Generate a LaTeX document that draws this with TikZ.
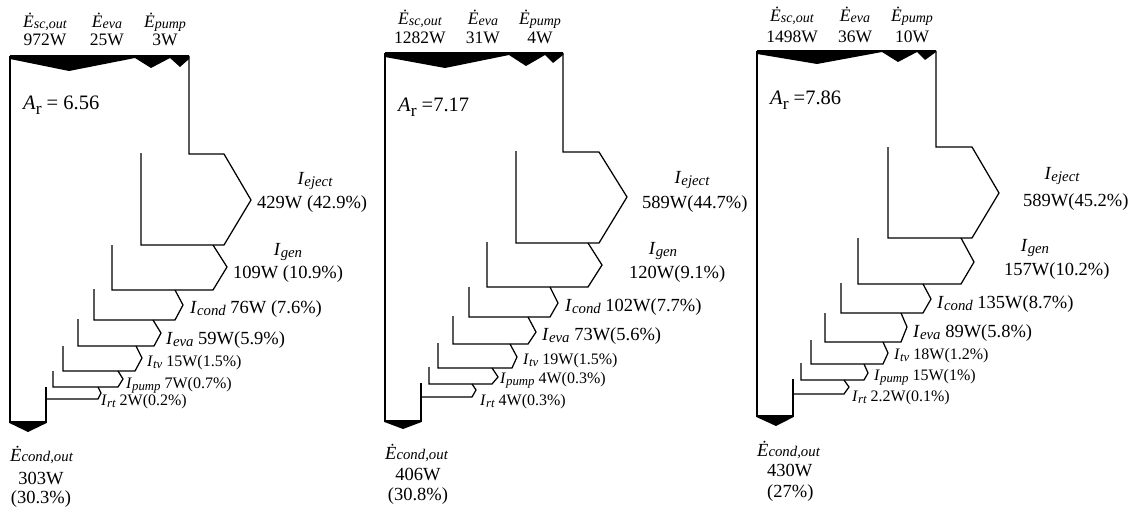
\documentclass[tikz,border=0pt]{standalone}
\usepackage{fontspec}
\setmainfont{Liberation Serif}
\makeatletter
\newcommand\subit[3][-0.15em]{\textit{#2}\raisebox{#1}{\fontsize{\fpeval{0.8*\f@size}}{\f@size}\selectfont\itshape #3}}
\newcommand\Rsub[1]{\raisebox{-0.2em}{\fontsize{\fpeval{0.85*\f@size}}{\f@size}\selectfont #1}}
\makeatother
\newcommand\Ed[1]{\subit[-0.05em]{Ė}{#1}}
\newcommand\Ii[1]{\subit[-0.15em]{I}{#1}}
\begin{document}
\begin{tikzpicture}[x=1pt,y=-1pt,
  flow/.style={line width=1.25pt, line join=miter},
  wedge/.style={fill=black},
  toplab/.style={inner sep=0pt, anchor=base, font=\fontsize{17.5}{18}\selectfont},
  big/.style={inner sep=0pt, font=\fontsize{18.5}{20}\selectfont},
  small/.style={inner sep=0pt, anchor=base west, font=\fontsize{16}{17}\selectfont},
  ar/.style={inner sep=0pt, anchor=base west, font=\fontsize{20.5}{22}\selectfont}]
\useasboundingbox (0,0) rectangle (1134,508);
% ---------------- diagram 1 ----------------
\fill[wedge] (10,56) -- (189,56) -- (189,59) -- (180,67) -- (170,58) -- (151,68) -- (135,58) -- (69,71) -- (10,59) -- cycle;
\draw[flow] (10,56) -- (189,56);
\draw[flow] (10,56) -- (10,423);
\draw[flow] (189,56) -- (189,154) -- (224,154) -- (251,200) -- (224,245) -- (141,245) -- (141,153);
\draw[flow] (213,245) -- (227,267) -- (213,290) -- (112,290) -- (112,245);
\draw[flow] (175,290) -- (183,305) -- (175,320) -- (94,320) -- (94,289);
\draw[flow] (153,320) -- (161,333) -- (154,346) -- (78,346) -- (78,319);
\draw[flow] (136,346) -- (142,358) -- (135,371) -- (63,371) -- (63,346);
\draw[flow] (118,371) -- (123,379) -- (118,387) -- (53,387) -- (53,371);
\draw[flow] (98,387) -- (101,393) -- (98,399) -- (46,399);
\draw[flow] (46,387) -- (46,423);
\fill[wedge] (9.4,421) -- (46.6,421) -- (46.6,423) -- (28,432) -- (9.4,423) -- cycle;
\node[toplab] (a1) at (45,28) {\Ed{sc,out}};
\node[toplab] (a1v) at (45,46) {972W};
\node[toplab] (b1) at (107,28) {\Ed{eva}};
\node[toplab] (b1v) at (107,46) {25W};
\node[toplab] (c1) at (165,28) {\Ed{pump}};
\node[toplab] (c1v) at (165,46) {3W};
\node[ar] (r1) at (23,110) {\textit{A}\Rsub{r} = 6.56};
\node[big,anchor=base] (ej1) at (315,184) {\Ii{eject}};
\node[big,anchor=base west] (ej1v) at (257,208) {429W (42.9\%)};
\node[big,anchor=base] (g1) at (288,255) {\Ii{gen}};
\node[big,anchor=base] (g1v) at (288,278) {109W (10.9\%)};
\node[big,anchor=base west] (cd1) at (190,313) {\Ii{cond} 76W (7.6\%)};
\node[big,anchor=base west] (ev1) at (166,344) {\Ii{eva} 59W(5.9\%)};
\node[small] (tv1) at (147,366) {\Ii{tv} 15W(1.5\%)};
\node[small] (pu1) at (126,388) {\Ii{pump} 7W(0.7\%)};
\node[small] (rt1) at (101,405) {\Ii{rt} 2W(0.2\%)};
\node[big,anchor=base west] (co1) at (10,461) {\Ed{cond,out}};
\node[big,anchor=base] (co1v) at (41,484) {303W};
\node[big,anchor=base] (co1p) at (41,503) {(30.3\%)};
% ---------------- diagram 2 ----------------
\fill[wedge] (385,53) -- (563,53) -- (563,55) -- (553,63) -- (545,55) -- (526,66) -- (509,55) -- (445,68) -- (385,57) -- cycle;
\draw[flow] (385,53) -- (563,53);
\draw[flow] (385,53) -- (385,422);
\draw[flow] (563,53) -- (563,152) -- (599,152) -- (627,197) -- (599,243) -- (516,243) -- (516,151);
\draw[flow] (588,243) -- (602,265) -- (588,287) -- (487,287) -- (487,242);
\draw[flow] (550,287) -- (558,303) -- (550,317) -- (469,317) -- (469,287);
\draw[flow] (528,317) -- (536,332) -- (528,344) -- (453,344) -- (453,316);
\draw[flow] (510,344) -- (517,357) -- (512,368) -- (438,368) -- (438,343);
\draw[flow] (492,368) -- (498,377) -- (492,384) -- (429,384) -- (429,367);
\draw[flow] (472,384) -- (476,390) -- (472,397) -- (421,397);
\draw[flow] (421,383) -- (421,422);
\fill[wedge] (384.4,420) -- (421.6,420) -- (421.6,422) -- (403,429) -- (384.4,422) -- cycle;
\node[toplab] (a2) at (420,25) {\Ed{sc,out}};
\node[toplab] (a2v) at (420,44) {1282W};
\node[toplab] (b2) at (483,25) {\Ed{eva}};
\node[toplab] (b2v) at (483,44) {31W};
\node[toplab] (c2) at (540,25) {\Ed{pump}};
\node[toplab] (c2v) at (540,44) {4W};
\node[ar] (r2) at (398,112) {\textit{A}\Rsub{r} =7.17};
\node[big,anchor=base] (ej2) at (692,183) {\Ii{eject}};
\node[big,anchor=base west] (ej2v) at (642,208) {589W(44.7\%)};
\node[big,anchor=base] (g2) at (663,254) {\Ii{gen}};
\node[big,anchor=base west] (g2v) at (629,278) {120W(9.1\%)};
\node[big,anchor=base west] (cd2) at (565,311) {\Ii{cond} 102W(7.7\%)};
\node[big,anchor=base west] (ev2) at (542,340) {\Ii{eva} 73W(5.6\%)};
\node[small] (tv2) at (523,364) {\Ii{tv} 19W(1.5\%)};
\node[small] (pu2) at (500,383) {\Ii{pump} 4W(0.3\%)};
\node[small] (rt2) at (480,405) {\Ii{rt} 4W(0.3\%)};
\node[big,anchor=base west] (co2) at (385,459) {\Ed{cond,out}};
\node[big,anchor=base] (co2v) at (418,480) {406W};
\node[big,anchor=base] (co2p) at (418,500) {(30.8\%)};
% ---------------- diagram 3 ----------------
\fill[wedge] (757,51) -- (936,51) -- (936,52) -- (925,60) -- (917,52) -- (898,62) -- (882,52) -- (817,64) -- (757,54) -- cycle;
\draw[flow] (757,51) -- (936,51);
\draw[flow] (757,51) -- (757,417);
\draw[flow] (936,51) -- (936,147) -- (972,147) -- (999,193) -- (972,238) -- (888,238) -- (888,147);
\draw[flow] (961,238) -- (974,262) -- (961,284) -- (858,284) -- (858,238);
\draw[flow] (923,284) -- (931,299) -- (923,313) -- (841,313) -- (841,283);
\draw[flow] (901,313) -- (907,327) -- (901,342) -- (825,342) -- (825,313);
\draw[flow] (883,342) -- (888,353) -- (883,364) -- (811,364) -- (811,340);
\draw[flow] (864,364) -- (868,373) -- (864,380) -- (801,380) -- (801,363);
\draw[flow] (844,380) -- (849,387) -- (844,394) -- (793,394);
\draw[flow] (793,379) -- (793,417);
\fill[wedge] (756.4,415) -- (793.6,415) -- (793.6,417) -- (776,426) -- (756.4,417) -- cycle;
\node[toplab] (a3) at (792,22) {\Ed{sc,out}};
\node[toplab] (a3v) at (792,43) {1498W};
\node[toplab] (b3) at (855,22) {\Ed{eva}};
\node[toplab] (b3v) at (855,43) {36W};
\node[toplab] (c3) at (912,22) {\Ed{pump}};
\node[toplab] (c3v) at (912,43) {10W};
\node[ar] (r3) at (770,105) {\textit{A}\Rsub{r} =7.86};
\node[big,anchor=base] (ej3) at (1062,179) {\Ii{eject}};
\node[big,anchor=base west] (ej3v) at (1023,206) {589W(45.2\%)};
\node[big,anchor=base] (g3) at (1035,251) {\Ii{gen}};
\node[big,anchor=base west] (g3v) at (1004,275) {157W(10.2\%)};
\node[big,anchor=base west] (cd3) at (937,308) {\Ii{cond} 135W(8.7\%)};
\node[big,anchor=base west] (ev3) at (913,337) {\Ii{eva} 89W(5.8\%)};
\node[small] (tv3) at (894,359) {\Ii{tv} 18W(1.2\%)};
\node[small] (pu3) at (874,380) {\Ii{pump} 15W(1\%)};
\node[small] (rt3) at (852,401) {\Ii{rt} 2.2W(0.1\%)};
\node[big,anchor=base west] (co3) at (757,456) {\Ed{cond,out}};
\node[big,anchor=base west] (co3v) at (767,476) {430W};
\node[big,anchor=base west] (co3p) at (767,497) {(27\%)};
\end{tikzpicture}
\end{document}
